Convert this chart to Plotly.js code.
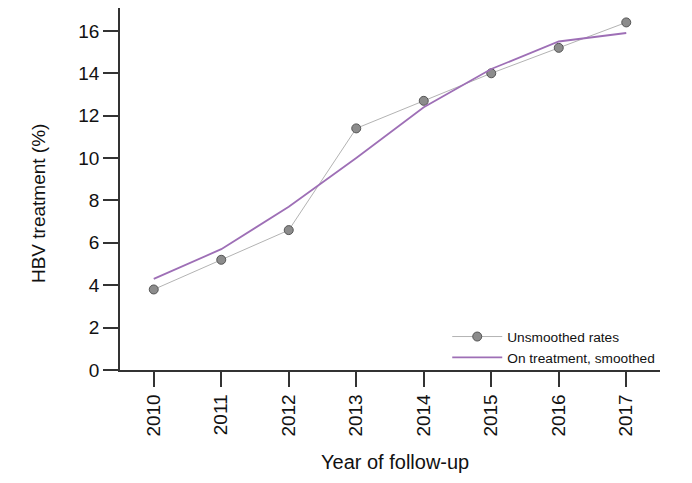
<!DOCTYPE html>
<html>
<head>
<meta charset="utf-8">
<script src="https://cdn.plot.ly/plotly-3.0.1.min.js"></script>
<style>
  html, body { margin: 0; padding: 0; background: #fff; }
  #fig { width: 692px; height: 483px; }
</style>
</head>
<body>
<div id="fig"></div>
<script>
// follow-up years and HBV treatment rates (%)
const years = [2010, 2011, 2012, 2013, 2014, 2015, 2016, 2017];
const unsmoothed = [3.8, 5.2, 6.6, 11.4, 12.7, 14.0, 15.2, 16.4];
const smoothed = [4.3, 5.7, 7.7, 10.0, 12.4, 14.2, 15.5, 15.9];
const yTicks = [0, 2, 4, 6, 8, 10, 12, 14, 16];

const axisCol = '#333333';
const fontFam = 'Liberation Sans, Arial, sans-serif';

Plotly.newPlot('fig', [
  {
    x: years,
    y: unsmoothed,
    type: 'scatter',
    mode: 'lines+markers',
    name: 'Unsmoothed rates',
    line: { color: '#b3b3b3', width: 1 },
    marker: { size: 9, color: '#8c8c8c', line: { color: '#555555', width: 1 } }
  },
  {
    x: years,
    y: smoothed,
    type: 'scatter',
    mode: 'lines',
    name: 'On treatment, smoothed',
    line: { color: '#9e6fb6', width: 1.8 }
  }
], {
  width: 692,
  height: 483,
  paper_bgcolor: '#fff',
  plot_bgcolor: '#fff',
  font: { family: fontFam, color: '#111', size: 18 },
  margin: { l: 120, r: 32, t: 8, b: 113 },
  showlegend: true,
  legend: {
    x: 0.606, y: 0.135, xanchor: 'left', yanchor: 'top',
    bgcolor: 'rgba(0,0,0,0)',
    itemwidth: 50,
    font: { size: 13.7, family: fontFam, color: '#111' },
    tracegroupgap: 0
  },
  xaxis: {
    range: [2009.5, 2017.5],
    tickmode: 'array',
    tickvals: years,
    ticktext: years.map(String),
    tickangle: -90,
    ticks: 'outside',
    ticklen: 15,
    tickwidth: 1.5,
    tickcolor: axisCol,
    showline: true,
    linecolor: axisCol,
    linewidth: 1.5,
    showgrid: false,
    zeroline: false,
    tickfont: { size: 19 }
  },
  yaxis: {
    range: [0, 17.08],
    tickmode: 'array',
    tickvals: yTicks,
    ticks: 'outside',
    ticklen: 15,
    tickwidth: 1.5,
    tickcolor: axisCol,
    showline: true,
    linecolor: axisCol,
    linewidth: 1.5,
    showgrid: false,
    zeroline: false,
    tickfont: { size: 19 }
  },
  annotations: [
    {
      text: 'Year of follow-up',
      xref: 'paper', yref: 'paper',
      x: 0.509, y: -0.254,
      xanchor: 'center', yanchor: 'middle',
      showarrow: false,
      font: { size: 20 }
    },
    {
      text: 'HBV treatment (%)',
      xref: 'paper', yref: 'paper',
      x: -0.152, y: 0.461,
      xanchor: 'center', yanchor: 'middle',
      textangle: -90,
      showarrow: false,
      font: { size: 19 }
    }
  ]
}, { displayModeBar: false });
</script>
</body>
</html>
